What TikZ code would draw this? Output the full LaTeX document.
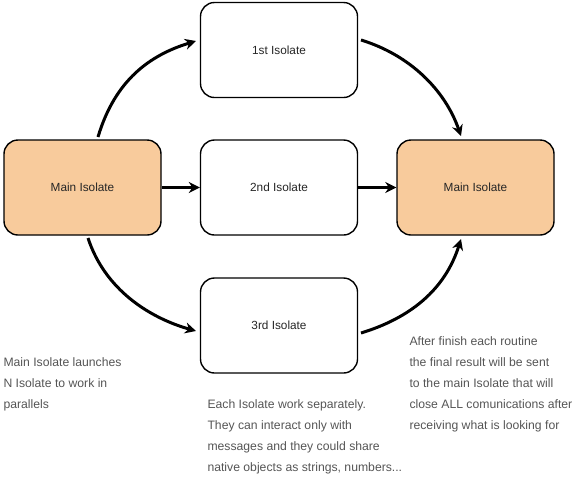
\documentclass[tikz,border=0pt]{standalone}
\usepackage{fontspec}
\setmainfont{Liberation Sans}
\usetikzlibrary{arrows.meta}
\definecolor{peach}{HTML}{F8CB9C}
\definecolor{txtgray}{HTML}{555555}
\tikzset{
  box/.style={draw=black, line width=1.4pt, rounded corners=14pt, minimum width=157pt, minimum height=95pt, fill=white, font=\fontsize{11.8}{13}\selectfont, text=black!85},
  mainbox/.style={box, fill=peach},
  conn/.style={line width=3pt, -{Stealth[length=11pt,width=11pt]}},
  note/.style={anchor=north west, align=left, text=txtgray, font=\fontsize{12.2}{21}\selectfont}
}
\begin{document}
\begin{tikzpicture}[x=1pt,y=-1pt]
\useasboundingbox (0,0) rectangle (583,480);
\node[mainbox] (ml) at (82.5,187.5) {Main Isolate};
\node[box] (i1) at (279,50) {1st Isolate};
\node[box] (i2) at (279,187.5) {2nd Isolate};
\node[box] (i3) at (279,325.5) {3rd Isolate};
\node[mainbox] (mr) at (475.5,187.5) {Main Isolate};
\coordinate (a1s) at (98,137);
\coordinate (a1e) at (196,41);
\coordinate (a3s) at (88,238);
\coordinate (a3e) at (196,331);
\coordinate (b1s) at (361,40);
\coordinate (b1e) at (461,136);
\coordinate (b3s) at (361,333);
\coordinate (b3e) at (461,239);
\draw[conn] (a1s) .. controls (115,80) and (150,55) .. (a1e);
\draw[conn] (a3s) .. controls (105,290) and (150,318) .. (a3e);
\draw[conn] (ml.east) -- (i2.west);
\draw[conn] (i2.east) -- (mr.west);
\draw[conn] (b1s) .. controls (410,55) and (445,90) .. (b1e);
\draw[conn] (b3s) .. controls (410,318) and (445,290) .. (b3e);
\node[note] (n1) at (0,354) {Main Isolate launches\\N Isolate to work in\\parallels};
\node[note] (n2) at (204,396) {Each Isolate work separately.\\They can interact only with\\messages and they could share\\native objects as strings, numbers...};
\node[note] (n3) at (406,333) {After finish each routine\\the final result will be sent\\to the main Isolate that will\\close ALL comunications after\\receiving what is looking for};
\end{tikzpicture}
\end{document}
